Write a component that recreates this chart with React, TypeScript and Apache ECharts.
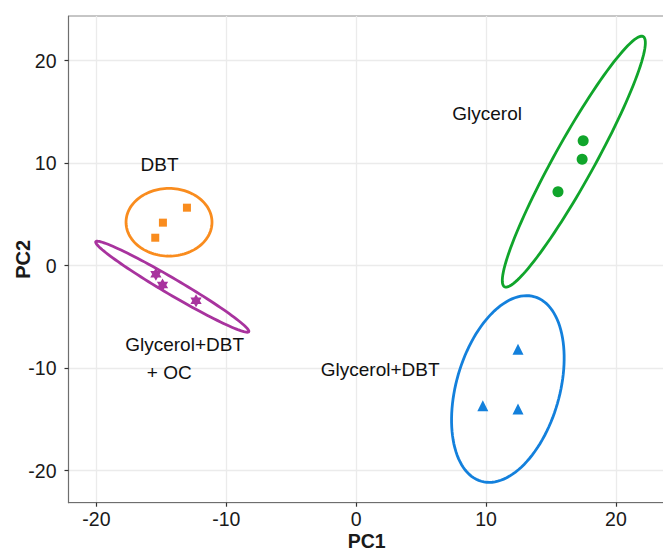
import React, { useEffect, useRef } from "react";
import * as echarts from "echarts";

// axis ranges and tick labels
const xRange = [-22.15, 23.78];
const yRange = [-23.12, 24.36];
const xTicks = [-20, -10, 0, 10, 20];
const yTicks = [-20, -10, 0, 10, 20];

// PCA scores (PC1, PC2)
const dbtPoints = [
  [-13.03, 5.66],
  [-14.88, 4.2],
  [-15.47, 2.73],
];
const glyDbtOcPoints = [
  [-15.42, -0.84],
  [-14.91, -1.88],
  [-12.33, -3.41],
];
const glycerolPoints = [
  [17.48, 12.2],
  [17.4, 10.38],
  [15.54, 7.22],
];
const glyDbtPoints = [
  [12.46, -8.16],
  [9.75, -13.66],
  [12.46, -13.98],
];

// confidence ellipses: [centerX, centerY, semiAxisA_dx, semiAxisA_dy, semiAxisB_dx, semiAxisB_dy]
const ellipseDbt = [-14.41, 4.24, 3.31, 0, 0, 3.3];
const ellipseGlyDbtOc = [-14.16, -2.05, 5.89, -4.39, 0.31, 0.67];
const ellipseGlycerol = [16.76, 10.15, 5.34, 12.2, 1.35, -0.95];
const ellipseGlyDbt = [11.68, -12.03, 2.05, 9.0, 3.82, -1.4];

// group annotations
const annotationTexts = ["DBT", "Glycerol+DBT", "+ OC", "Glycerol", "Glycerol+DBT"];
const annotationX = [-15.14, -13.21, -14.39, 10.08, 1.85];
const annotationY = [9.92, -7.64, -10.4, 14.87, -10.1];

const COLORS = {
  dbt: "#f98c1e",
  oc: "#a8339e",
  gly: "#10a52b",
  glyDbt: "#1380dc",
};

const HEXAGRAM =
  "path://M0,-10L2.887,-5L8.66,-5L5.774,0L8.66,5L2.887,5L0,10L-2.887,5L-8.66,5L-5.774,0L-8.66,-5L-2.887,-5Z";

const NARROW = "'Liberation Sans Narrow', 'Arial Narrow', 'Liberation Sans', Arial, sans-serif";
const SANS = "'Liberation Sans', Arial, sans-serif";

function ellipseSeries(params: number[], color: string) {
  return {
    type: "custom",
    silent: true,
    clip: false,
    z: 2,
    data: [params],
    encode: { x: 0, y: 1 },
    renderItem: (_p: any, api: any) => {
      const cx = api.value(0);
      const cy = api.value(1);
      const c = api.coord([cx, cy]);
      const pa = api.coord([cx + api.value(2), cy + api.value(3)]);
      const pb = api.coord([cx + api.value(4), cy + api.value(5)]);
      const ax = pa[0] - c[0];
      const ay = pa[1] - c[1];
      const bx = pb[0] - c[0];
      const by = pb[1] - c[1];
      const pts: number[][] = [];
      const n = 120;
      for (let i = 0; i < n; i++) {
        const t = (i / n) * Math.PI * 2;
        pts.push([c[0] + ax * Math.cos(t) + bx * Math.sin(t), c[1] + ay * Math.cos(t) + by * Math.sin(t)]);
      }
      return {
        type: "polygon",
        shape: { points: pts },
        style: { fill: "none", stroke: color, lineWidth: 2.8 },
      };
    },
  };
}

export default function App() {
  const ref = useRef<HTMLDivElement>(null);
  useEffect(() => {
    document.body.style.margin = "0";
    if (!ref.current) return;
    const chart = echarts.init(ref.current, null, { renderer: "svg" });
    const axisLabelStyle = { fontSize: 19.5, color: "#1a1a1a", fontFamily: NARROW };
    chart.setOption({
      animation: false,
      backgroundColor: "#ffffff",
      grid: {
        left: 68.5,
        right: -2,
        top: 16,
        bottom: 50.3,
        containLabel: false,
        outerBoundsMode: "none",
        show: true,
        borderColor: "#8c8c8c",
        borderWidth: 1,
      },
      xAxis: {
        type: "value",
        min: xRange[0],
        max: xRange[1],
        splitNumber: 9,
        axisLine: { show: true, onZero: false, lineStyle: { color: "#6e6e6e", width: 1.2 } },
        axisTick: { show: true, customValues: xTicks, length: 4, lineStyle: { color: "#333", width: 1.2 } },
        axisLabel: { customValues: xTicks, margin: 7, lineHeight: 19, ...axisLabelStyle },
        splitLine: { show: true, lineStyle: { color: "#ebebeb", width: 1.3 } },
        name: "PC1",
        nameLocation: "middle",
        nameGap: 38,
        nameMoveOverlap: false,
        nameTextStyle: {
          fontSize: 19.5,
          lineHeight: 18,
          fontWeight: "bold",
          color: "#1a1a1a",
          fontFamily: NARROW,
          verticalAlign: "middle",
        },
      },
      yAxis: {
        type: "value",
        min: yRange[0],
        max: yRange[1],
        splitNumber: 9,
        axisLine: { show: true, onZero: false, lineStyle: { color: "#6e6e6e", width: 1.2 } },
        axisTick: { show: true, customValues: yTicks, length: 4, lineStyle: { color: "#333", width: 1.2 } },
        axisLabel: { customValues: yTicks, margin: 12, ...axisLabelStyle },
        splitLine: { show: true, lineStyle: { color: "#ebebeb", width: 1.3 } },
        name: "PC2",
        nameLocation: "middle",
        nameGap: 46,
        nameRotate: 90,
        nameMoveOverlap: false,
        nameTextStyle: {
          fontSize: 20,
          fontWeight: "bold",
          color: "#1a1a1a",
          fontFamily: NARROW,
          verticalAlign: "middle",
        },
      },
      series: [
        ellipseSeries(ellipseDbt, COLORS.dbt),
        ellipseSeries(ellipseGlyDbtOc, COLORS.oc),
        ellipseSeries(ellipseGlycerol, COLORS.gly),
        ellipseSeries(ellipseGlyDbt, COLORS.glyDbt),
        {
          name: "DBT",
          type: "scatter",
          symbol: "rect",
          symbolSize: 8,
          itemStyle: { color: COLORS.dbt, opacity: 1 },
          data: dbtPoints,
          z: 3,
        },
        {
          name: "Glycerol+DBT+OC",
          type: "scatter",
          symbol: HEXAGRAM,
          symbolKeepAspect: true,
          symbolSize: 13,
          itemStyle: { color: COLORS.oc, opacity: 1 },
          data: glyDbtOcPoints,
          z: 3,
        },
        {
          name: "Glycerol",
          type: "scatter",
          symbol: "circle",
          symbolSize: 11,
          itemStyle: { color: COLORS.gly, opacity: 1 },
          data: glycerolPoints,
          z: 3,
        },
        {
          name: "Glycerol+DBT",
          type: "scatter",
          symbol: "triangle",
          symbolSize: 11,
          itemStyle: { color: COLORS.glyDbt, opacity: 1 },
          data: glyDbtPoints,
          z: 3,
        },
        {
          name: "annotations",
          type: "scatter",
          symbolSize: 0,
          silent: true,
          z: 4,
          itemStyle: { opacity: 1 },
          data: annotationTexts.map((t, i) => ({ name: t, value: [annotationX[i], annotationY[i]] })),
          label: {
            show: true,
            position: "inside",
            formatter: "{b}",
            fontSize: 19,
            color: "#111111",
            opacity: 1,
            fontFamily: SANS,
          },
        },
      ],
    });
    return () => chart.dispose();
  }, []);
  return <div ref={ref} style={{ width: 663, height: 553 }} />;
}
